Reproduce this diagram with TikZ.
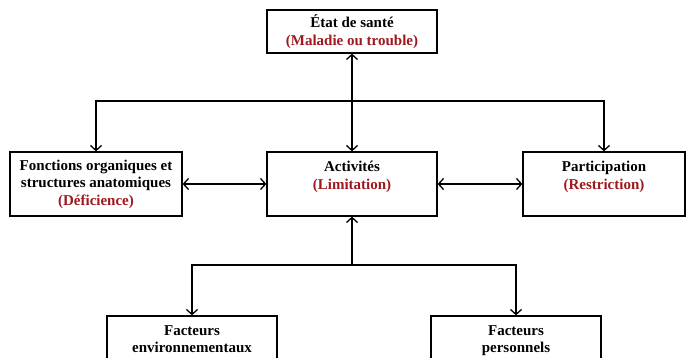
\documentclass[tikz,border=0pt]{standalone}
\usepackage{fontspec}
\setmainfont{Liberation Serif}
\usetikzlibrary{arrows.meta}
\definecolor{rouge}{rgb}{0.62,0.1,0.12}
\newcommand{\sub}[1]{\textcolor{rouge}{#1}}
\begin{document}
\begin{tikzpicture}[x=1pt, y=-1pt, line width=1.3pt, >={Straight Barb[length=5pt,width=11pt]},
	box/.style={draw, minimum width=170pt, minimum height=64pt, align=center, font=\fontsize{15}{17.5}\selectfont\bfseries}]
	\useasboundingbox (0,0) rectangle (686,358);
	\node[box, minimum height=43pt] (E) at (352,31.5) {État de santé\\\sub{(Maladie ou trouble)}};
	\node[box, minimum width=172pt] (F) at (96,184) {Fonctions organiques et\\structures anatomiques\\\sub{(Déficience)}};
	\node[box] (A) at (352,184) {Activités\\\sub{(Limitation)}\\\mbox{}};
	\node[box, minimum width=162pt] (P) at (604,184) {Participation\\\sub{(Restriction)}\\\mbox{}};
	\node[box] (N) at (192,348) {Facteurs\\environnementaux\\\mbox{}};
	\node[box] (R) at (516,348) {Facteurs\\personnels\\\mbox{}};
	\coordinate (haut) at (352,101);
	\coordinate (bas) at (352,265);
	\draw[<->] (E) -- (A);
	\draw[<->] (F.north) |- (haut) -| (P.north);
	\draw[<->] (F) -- (A);
	\draw[<->] (A) -- (P);
	\draw[->] (bas) -- (A);
	\draw[<->] (N.north) |- (bas) -| (R.north);
\end{tikzpicture}
\end{document}
